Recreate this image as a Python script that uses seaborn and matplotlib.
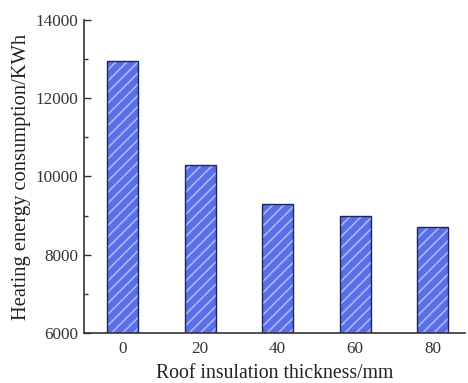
import matplotlib
matplotlib.use("Agg")
import matplotlib.pyplot as plt
import seaborn as sns
import pandas as pd
from matplotlib.patches import Rectangle
from matplotlib.ticker import MultipleLocator

thickness = ["0", "20", "40", "60", "80"]
energy = [12950, 10300, 9300, 9000, 8700]

sns.set_style("ticks")
plt.rcParams['font.family'] = ['Liberation Serif', 'DejaVu Serif']
plt.rcParams['hatch.linewidth'] = 1.2

df = pd.DataFrame({"thickness": thickness, "energy": energy})

fig = plt.figure(figsize=(4.68, 3.83), dpi=100)
ax = fig.add_axes([0.179, 0.1305, 0.815, 0.8175])

sns.barplot(data=df, x="thickness", y="energy", ax=ax, width=0.4,
            color="#5a6ee8", saturation=1, linewidth=0, edgecolor="#a9b8f5")
for p in list(ax.patches):
    p.set_hatch("///")
    p.set_edgecolor("#a9b8f5")
    p.set_linewidth(0)
    r = Rectangle(p.get_xy(), p.get_width(), p.get_height(), fill=False,
                  edgecolor="#1c2560", linewidth=1.0, zorder=p.get_zorder() + 0.1)
    ax.add_patch(r)

ax.set_ylim(6000, 14000)
ax.set_xlim(-0.5, 4.42)
ax.yaxis.set_major_locator(MultipleLocator(2000))
ax.yaxis.set_minor_locator(MultipleLocator(1000))
ax.tick_params(axis="both", which="both", direction="in", labelsize=12.3, color="#333333",
               labelcolor="#333333")
ax.tick_params(axis="both", which="major", length=5, width=1)
ax.tick_params(axis="y", which="minor", length=3, width=1)
ax.tick_params(axis="y", which="major", pad=4)
ax.tick_params(axis="x", which="major", pad=6)
ax.set_xlabel("Roof insulation thickness/mm", fontsize=14.2, labelpad=5, color="#222222")
ax.set_ylabel("Heating energy consumption/KWh", fontsize=14.8, labelpad=3, color="#222222")
for s in ["top", "right"]:
    ax.spines[s].set_visible(False)
for s in ["left", "bottom"]:
    ax.spines[s].set_color("#333333")
    ax.spines[s].set_linewidth(1.2)

fig.savefig("out.png", dpi=100)
